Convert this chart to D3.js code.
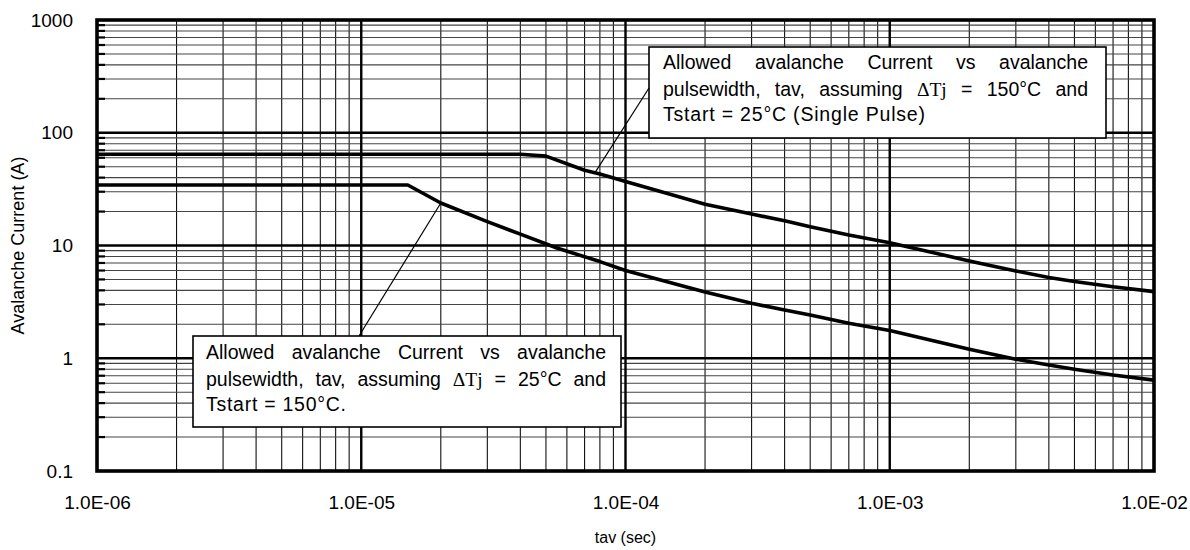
<!DOCTYPE html>
<html><head><meta charset="utf-8">
<script src="https://cdn.jsdelivr.net/npm/d3@7"></script>
<style>body{margin:0;background:#fff}svg{display:block}</style>
</head><body>
<svg id="c" width="1190" height="550"></svg>
<script>
// ---------- data ----------
const xTickValues = [1e-6, 1e-5, 1e-4, 1e-3, 1e-2];
const xTickLabels = ["1.0E-06", "1.0E-05", "1.0E-04", "1.0E-03", "1.0E-02"];
const yTickValues = [0.1, 1, 10, 100, 1000];
const yTickLabels = ["0.1", "1", "10", "100", "1000"];

// Curve 1: ΔTj = 150°C, Tstart = 25°C (single pulse)
const curve1X = [1e-6, 4e-5, 5e-5, 7e-5, 8e-5, 1e-4, 2e-4, 3e-4, 4e-4, 5e-4, 7e-4, 1e-3, 2e-3, 3e-3, 4e-3, 5e-3, 7e-3, 1e-2];
const curve1Y = [64.5, 64.5, 62, 46.5, 43, 37, 23.2, 19, 16.6, 14.7, 12.4, 10.6, 7.3, 5.95, 5.2, 4.8, 4.3, 3.9];
// Curve 2: ΔTj = 25°C, Tstart = 150°C
const curve2X = [1e-6, 1.5e-5, 2e-5, 3e-5, 4e-5, 5.5e-5, 8e-5, 1e-4, 2e-4, 3e-4, 4e-4, 5e-4, 7e-4, 1e-3, 2e-3, 3e-3, 4e-3, 5e-3, 7e-3, 1e-2];
const curve2Y = [34.4, 34.4, 23.8, 16.3, 12.6, 9.5, 7.2, 6.0, 3.87, 3.07, 2.68, 2.42, 2.04, 1.76, 1.2, 0.98, 0.87, 0.80, 0.71, 0.64];

const note1Lines = ["Allowed avalanche Current vs avalanche", "pulsewidth, tav, assuming ΔTj = 150°C and", "Tstart = 25°C (Single Pulse)"];
const note2Lines = ["Allowed avalanche Current vs avalanche", "pulsewidth, tav, assuming ΔTj = 25°C and", "Tstart = 150°C."];
const note1Anchor = [7.7e-5, 45];
const note2Anchor = [2e-5, 23.8];

const xTitle = "tav (sec)";
const yTitle = "Avalanche Current (A)";

// ---------- layout ----------
const L = 97, R = 1154, T = 20, B = 471;
const SANS = "'Liberation Sans', Arial, Helvetica, sans-serif";
const SERIF = "'Liberation Serif', 'Times New Roman', serif";

const svg = d3.select("#c");
const x = d3.scaleLog().domain([1e-6, 1e-2]).range([L, R]);
const y = d3.scaleLog().domain([0.1, 1000]).range([B, T]);

// minor grid values
const xMinor = [], yMinor = [];
for (let i = 0; i < xTickValues.length - 1; i++) for (let k = 2; k <= 9; k++) xMinor.push(xTickValues[i] * k);
for (let i = 0; i < yTickValues.length - 1; i++) for (let k = 2; k <= 9; k++) yMinor.push(yTickValues[i] * k);

const grid = svg.append("g");
grid.selectAll(".vx").data(xMinor).join("line")
  .attr("x1", d => x(d)).attr("x2", d => x(d)).attr("y1", T).attr("y2", B)
  .attr("stroke", "#111").attr("stroke-width", 1.1);
grid.selectAll(".hy").data(yMinor).join("line")
  .attr("y1", d => y(d)).attr("y2", d => y(d)).attr("x1", L).attr("x2", R)
  .attr("stroke", "#444").attr("stroke-width", 1.1);
// short inner ticks on left at minor lines
grid.selectAll(".ty").data(yMinor).join("line")
  .attr("y1", d => y(d)).attr("y2", d => y(d)).attr("x1", L).attr("x2", L + 8)
  .attr("stroke", "#000").attr("stroke-width", 2.2);
// major grid
grid.selectAll(".mx").data(xTickValues.slice(1, -1)).join("line")
  .attr("x1", d => x(d)).attr("x2", d => x(d)).attr("y1", T).attr("y2", B)
  .attr("stroke", "#000").attr("stroke-width", 2.4);
grid.selectAll(".my").data(yTickValues.slice(1, -1)).join("line")
  .attr("y1", d => y(d)).attr("y2", d => y(d)).attr("x1", L).attr("x2", R)
  .attr("stroke", "#000").attr("stroke-width", 2.6);

// curves
const line = d3.line().x(d => x(d[0])).y(d => y(d[1]));
svg.append("path").datum(d3.zip(curve1X, curve1Y)).attr("d", line)
  .attr("fill", "none").attr("stroke", "#000").attr("stroke-width", 3.6).attr("stroke-linejoin", "round");
svg.append("path").datum(d3.zip(curve2X, curve2Y)).attr("d", line)
  .attr("fill", "none").attr("stroke", "#000").attr("stroke-width", 3.6).attr("stroke-linejoin", "round");

// border
svg.append("rect").attr("x", L).attr("y", T).attr("width", R - L).attr("height", B - T)
  .attr("fill", "none").attr("stroke", "#000").attr("stroke-width", 3.6);

// axes (labels only)
const ax = svg.append("g").attr("transform", `translate(0,${B})`)
  .call(d3.axisBottom(x).tickValues(xTickValues).tickFormat((d, i) => xTickLabels[i]).tickSize(0).tickPadding(25));
const ay = svg.append("g").attr("transform", `translate(${L},0)`)
  .call(d3.axisLeft(y).tickValues(yTickValues).tickFormat((d, i) => yTickLabels[i]).tickSize(0).tickPadding(24));
[ax, ay].forEach(a => {
  a.select(".domain").remove();
  a.selectAll("text").attr("font-family", SANS).attr("font-size", 19).attr("fill", "#000");
});

svg.append("text").attr("x", (L + R) / 2).attr("y", 543).attr("text-anchor", "middle")
  .attr("font-family", SANS).attr("font-size", 16).text(xTitle);
svg.append("text").attr("transform", `translate(24,${(T + B) / 2}) rotate(-90)`).attr("text-anchor", "middle")
  .attr("font-family", SANS).attr("font-size", 18).text(yTitle);

// annotations
function note(lines, box, anchor, end) {
  const g = svg.append("g");
  svg.append("line").attr("x1", x(anchor[0])).attr("y1", y(anchor[1])).attr("x2", end[0]).attr("y2", end[1])
    .attr("stroke", "#000").attr("stroke-width", 1.2);
  g.append("rect").attr("x", box.x).attr("y", box.y).attr("width", box.w).attr("height", box.h)
    .attr("fill", "#fff").attr("stroke", "#000").attr("stroke-width", 1.6);
  lines.forEach((ln, li) => {
    const by = box.base[li];
    if (li < lines.length - 1) {
      const words = ln.split(" ");
      const els = words.map(w => g.append("text").attr("y", by).attr("font-size", 19.5)
        .attr("font-family", w.includes("Δ") ? SERIF : SANS).text(w));
      const widths = els.map(e => e.node().getComputedTextLength());
      const total = d3.sum(widths);
      const gap = (box.tr - box.tl - total) / (words.length - 1);
      let cx = box.tl;
      els.forEach((e, i) => { e.attr("x", cx); cx += widths[i] + gap; });
    } else {
      g.append("text").attr("x", box.tl).attr("y", by).attr("font-size", 19.5)
        .attr("font-family", SANS).attr("textLength", box.last).attr("lengthAdjust", "spacing").text(ln);
    }
  });
}
note(note1Lines, {x: 649, y: 47, w: 457, h: 91, tl: 663, tr: 1088, base: [69, 96, 121], last: 262}, note1Anchor, [649, 88]);
note(note2Lines, {x: 193, y: 336, w: 428, h: 91, tl: 206, tr: 606, base: [359, 386, 411], last: 140}, note2Anchor, [359, 336]);
</script>
</body></html>
